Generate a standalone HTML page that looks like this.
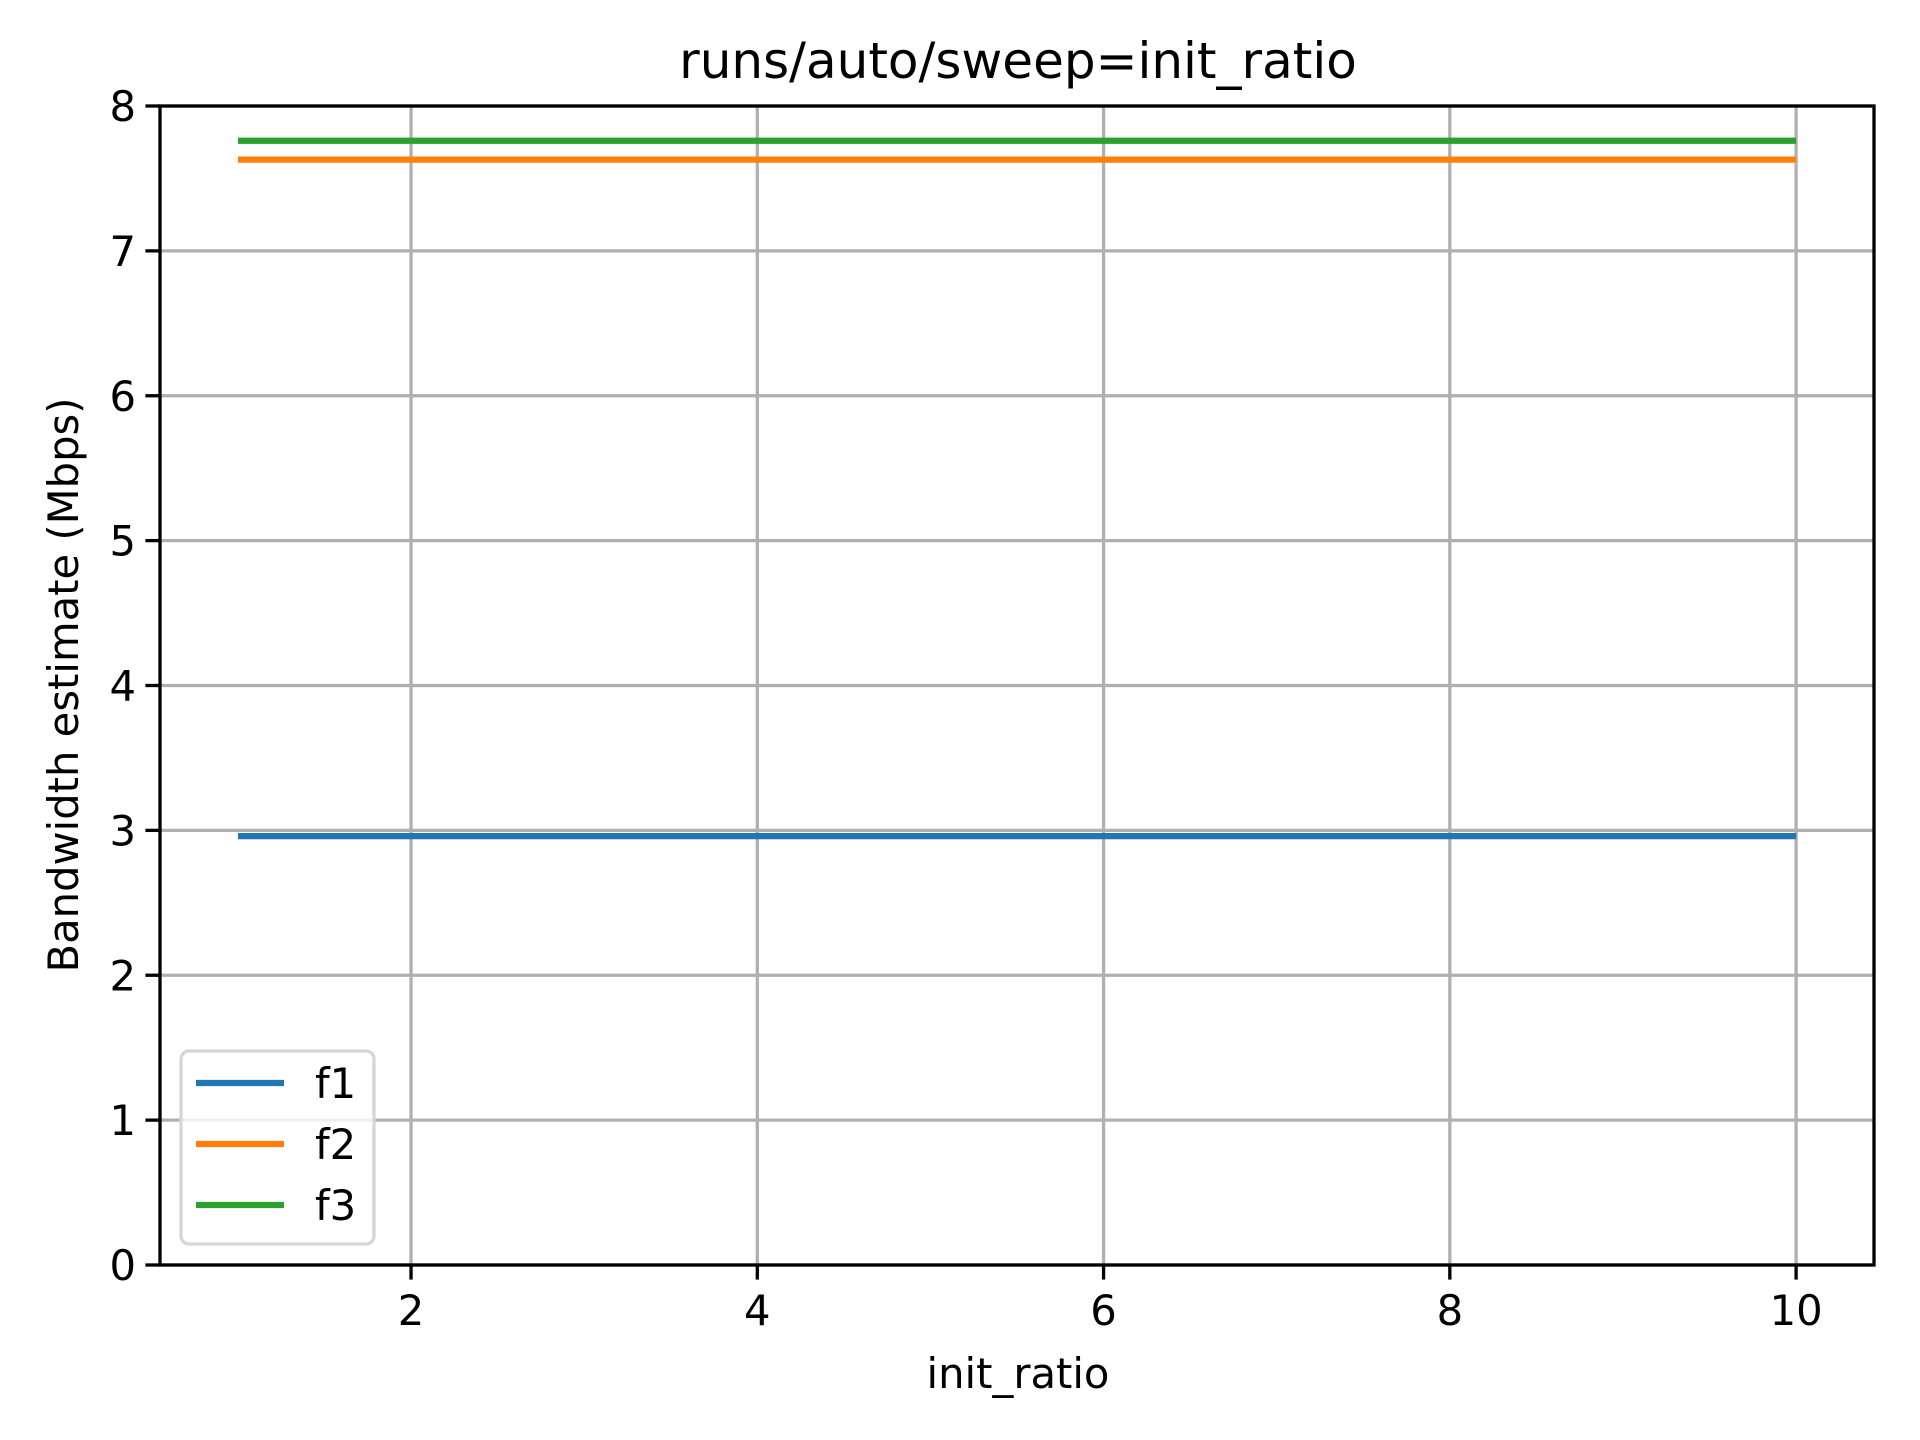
<!DOCTYPE html>
<html><head><meta charset="utf-8"><style>body{margin:0;background:#fff}svg{display:block}text{font-family:"DejaVu Sans","Liberation Sans",sans-serif;fill:#000}</style></head>
<body>
<svg id="chart" width="1920" height="1440" viewBox="0 0 1920 1440" xmlns="http://www.w3.org/2000/svg">
<rect width="1920" height="1440" fill="#fff"/>
<g id="grid"></g><g id="series"></g><g id="axes"></g><g id="legend"></g>
<text x="1018" y="78" font-size="50" text-anchor="middle">runs/auto/sweep=init_ratio</text>
<text x="1018" y="1388" font-size="41.7" text-anchor="middle">init_ratio</text>
<text transform="translate(78,685) rotate(-90)" font-size="41.7" text-anchor="middle">Bandwidth estimate (Mbps)</text>
</svg>
<script>
const xValues = [1, 10];
const seriesNames = ['f1', 'f2', 'f3'];
const f1Values = [2.96, 2.96];
const f2Values = [7.63, 7.63];
const f3Values = [7.76, 7.76];
const xTicks = [2, 4, 6, 8, 10];
const yTicks = [0, 1, 2, 3, 4, 5, 6, 7, 8];
const colors = ['#1f77b4', '#ff7f0e', '#2ca02c'];

const L=160,R=1874,T=106,B=1265;
const xmin=0.55,xmax=10.45,ymin=0,ymax=8;
const sx=v=>L+(v-xmin)/(xmax-xmin)*(R-L);
const sy=v=>B-(v-ymin)/(ymax-ymin)*(B-T);
const NS='http://www.w3.org/2000/svg';
function mk(tag,attrs,parent){const e=document.createElementNS(NS,tag);for(const k in attrs)e.setAttribute(k,attrs[k]);parent.appendChild(e);return e;}
const grid=document.getElementById('grid'),axes=document.getElementById('axes'),ser=document.getElementById('series'),leg=document.getElementById('legend');
xTicks.forEach(t=>{
  const g=mk('line',{x1:sx(t),x2:sx(t),y1:T,y2:B,stroke:'#b0b0b0','stroke-width':3.3},grid);
  
  
  const tk=mk('line',{x1:sx(t),x2:sx(t),y1:B,y2:B+14.6,stroke:'#000','stroke-width':3.3},axes);
  
  
  const tx=mk('text',{x:sx(t),y:B+60,'font-size':41.7,'text-anchor':'middle'},axes);
  tx.textContent=t;
  
  
});
yTicks.forEach(t=>{
  const g=mk('line',{x1:L,x2:R,y1:sy(t),y2:sy(t),stroke:'#b0b0b0','stroke-width':3.3},grid);
  
  
  const tk=mk('line',{x1:L-14.6,x2:L,y1:sy(t),y2:sy(t),stroke:'#000','stroke-width':3.3},axes);
  
  
  const tx=mk('text',{x:L-24,y:sy(t)+15,'font-size':41.7,'text-anchor':'end'},axes);
  tx.textContent=t;
  
  
});
const frame=mk('rect',{x:L,y:T,width:R-L,height:B-T,fill:'none',stroke:'#000','stroke-width':3.3},axes);


[f1Values,f2Values,f3Values].forEach((vals,i)=>{
  const pts=vals.map((v,j)=>sx(xValues[j])+','+sy(v)).join(' ');
  const p=mk('polyline',{points:pts,fill:'none',stroke:colors[i],'stroke-width':6.25},ser);
  
  
});
const box=mk('rect',{x:181,y:1051,width:193,height:193,rx:8,fill:'#fff','fill-opacity':0.8,stroke:'#d6d6d6','stroke-width':3.3},leg);


seriesNames.forEach((n,i)=>{
  const y=1083+i*61;
  const l=mk('line',{x1:196,x2:284,y1:y,y2:y,stroke:colors[i],'stroke-width':6.25},leg);
  
  
  const t=mk('text',{x:315,y:y+15,'font-size':41.7},leg);
  t.textContent=n;
  
  
});
</script>
</body></html>
